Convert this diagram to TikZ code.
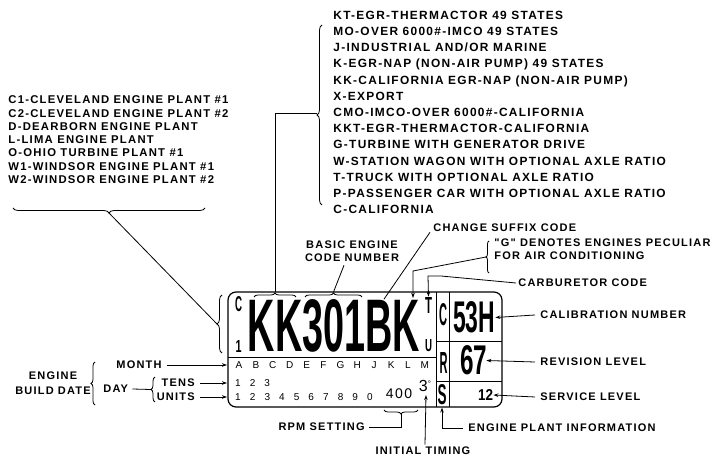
\documentclass[tikz,border=0pt]{standalone}
\usepackage{fontspec}
\setmainfont{Liberation Sans}
\newfontfamily\lblfont{Liberation Sans}[LetterSpace=11]
\usetikzlibrary{arrows.meta,decorations.pathreplacing}
\newcommand{\stamp}[3]{\resizebox{#1pt}{#2pt}{\bfseries #3}}

\begin{document}
\begin{tikzpicture}[x=1pt,y=-1pt,line width=0.8pt,
    lbl/.style={font=\lblfont\bfseries\fontsize{11}{13}\selectfont,inner sep=0pt},
    codelist/.style={lbl,align=left},
    digit/.style={font=\fontsize{10}{12}\selectfont,inner sep=0pt},
    heavy/.style={inner sep=0pt},
    brc/.style={decorate,decoration={brace,amplitude=#1}}, brc/.default=4,
    arr/.style={-{Stealth[length=5pt,width=3.5pt]}},
    plate/.style={line width=1.2pt,rounded corners=8pt}]
    \useasboundingbox (0,0) rectangle (716,460);

    % code lists
    \node[codelist,font=\lblfont\bfseries\fontsize{11.9}{16.2}\selectfont,anchor=north west] (types) at (333,10.5) {KT-EGR-THERMACTOR 49 STATES\\MO-OVER 6000\#-IMCO 49 STATES\\J-INDUSTRIAL AND/OR MARINE\\K-EGR-NAP (NON-AIR PUMP) 49 STATES\\KK-CALIFORNIA EGR-NAP (NON-AIR PUMP)\\X-EXPORT\\CMO-IMCO-OVER 6000\#-CALIFORNIA\\KKT-EGR-THERMACTOR-CALIFORNIA\\G-TURBINE WITH GENERATOR DRIVE\\W-STATION WAGON WITH OPTIONAL AXLE RATIO\\T-TRUCK WITH OPTIONAL AXLE RATIO\\P-PASSENGER CAR WITH OPTIONAL AXLE RATIO\\C-CALIFORNIA};
    \node[codelist,font=\lblfont\bfseries\fontsize{11.3}{13.3}\selectfont,anchor=north west] (plants) at (8,95.5) {C1-CLEVELAND ENGINE PLANT \#1\\C2-CLEVELAND ENGINE PLANT \#2\\D-DEARBORN ENGINE PLANT\\L-LIMA ENGINE PLANT\\O-OHIO TURBINE PLANT \#1\\W1-WINDSOR ENGINE PLANT \#1\\W2-WINDSOR ENGINE PLANT \#2};

    % the plate
    \draw[plate] (228,292) rectangle (502,407);
    \draw (436,292) -- (436,407) (449,292) -- (449,407);
    \draw (228,357) -- (436,357);
    \draw (436,341) -- (502,341) (436,381) -- (502,381);
    \node[heavy] (code) at (334,326) {\stamp{172}{52}{KK301BK}};
    \node[heavy] (plantc) at (238.5,304.5) {\stamp{7}{15}{C}};
    \node[heavy] (plantn) at (238.5,346) {\stamp{6}{12}{1}};
    \node[heavy] (carbt) at (428.5,305) {\stamp{7}{16}{T}};
    \node[heavy] (carbu) at (428.5,346) {\stamp{7}{12}{U}};
    \node[heavy] (calc) at (443,315) {\stamp{8}{22}{C}};
    \node[heavy] (revr) at (443.5,362.5) {\stamp{8}{21}{R}};
    \node[heavy] (servs) at (442,395) {\stamp{9}{20}{S}};
    \node[heavy] (calval) at (474,317.5) {\stamp{42}{31}{53H}};
    \node[heavy] (revval) at (473.5,360.5) {\stamp{27}{29}{67}};
    \node[heavy] (servval) at (485.5,395) {\stamp{15}{11}{12}};
    \foreach \l [count=\i from 0] in {A,B,C,D,E,F,G,H,J,K,L,M}
      \node[digit] (month\i) at (239+16.9*\i,365) {\l};
    \foreach \d [count=\i from 0] in {1,2,3}
      \node[digit] (tens\i) at (238+14.6*\i,383) {\d};
    \foreach \d [count=\i from 0] in {1,2,3,4,5,6,7,8,9,0}
      \node[digit] (units\i) at (238+14.65*\i,397) {\d};
    \node[inner sep=0pt,font=\lblfont\fontsize{14}{14}\selectfont] (rpmval) at (399,393.5) {400};
    \node[inner sep=0pt,font=\fontsize{16}{16}\selectfont] (deg) at (425,386) {3\raisebox{5pt}{\fontsize{8}{8}\selectfont °}};

    % braces
    \draw[brc=5] (322,205) -- (322,25);
    \draw[brc] (254,297) -- (296,297);
    \draw[brc] (305,297) -- (362,297);
    \draw[brc=5] (205,208) -- (13,208);
    \draw[brc=5] (222,353) -- (222,295);
    \draw[brc=3] (489,273) -- (489,241);
    \draw[brc] (418,410) -- (384,410);
    \draw[brc] (95,405) -- (95,362);
    \draw[brc] (155,402) -- (155,377);
    \coordinate (typestip) at (317,113);
    \coordinate (kktip) at (275,292);
    \coordinate (numtip) at (333.5,292);
    \coordinate (planttip) at (109,213);
    \coordinate (platetip) at (217,324);
    \coordinate (gtip) at (486,257);
    \coordinate (rpmtip) at (401,414);
    \coordinate (buildtip) at (91,383.5);
    \coordinate (daytip) at (151,389.5);

    % labels
    \node[lbl,align=center] (basic) at (352,251.5) {BASIC ENGINE\\CODE NUMBER};
    \node[lbl,anchor=west] (suffix) at (433,228) {CHANGE SUFFIX CODE};
    \node[lbl,anchor=west,align=left] (gnote) at (494,249.5) {"G" DENOTES ENGINES PECULIAR\\FOR AIR CONDITIONING};
    \node[lbl,anchor=west] (carb) at (518,283) {CARBURETOR CODE};
    \node[lbl,anchor=west] (calib) at (540,315) {CALIBRATION NUMBER};
    \node[lbl,anchor=west] (revision) at (540,362) {REVISION LEVEL};
    \node[lbl,anchor=west] (service) at (540,397) {SERVICE LEVEL};
    \node[lbl,anchor=west] (plantinfo) at (468,428) {ENGINE PLANT INFORMATION};
    \node[lbl] (timing) at (423,451) {INITIAL TIMING};
    \node[lbl,anchor=east] (rpm) at (365,427) {RPM SETTING};
    \node[lbl,align=center,font=\lblfont\bfseries\fontsize{11}{15}\selectfont] (build) at (53,383) {ENGINE\\BUILD DATE};
    \node[lbl,anchor=east] (month) at (162,365) {MONTH};
    \node[lbl,anchor=west] (day) at (103,389) {DAY};
    \node[lbl,anchor=east] (tens) at (195,383) {TENS};
    \node[lbl,anchor=east] (units) at (195,397) {UNITS};

    % connectors
    \draw (kktip) |- (typestip);
    \draw (planttip) -- (platetip);
    \draw ([xshift=-8pt,yshift=-3pt]basic.south) -- (numtip);
    \draw ([xshift=-3pt]suffix.south west) -- (code.north east -| 384,0) ++(0,4);
    \draw[arr] (gtip) -- (413,271) -- (413,298);
    \draw[arr] ([xshift=-2pt]carb.west) -- (441,276) -- (428,276) -- (carbt.north);
    \draw[arr] ([xshift=-5pt]calib.west) -- (calval.east);
    \draw[arr] ([xshift=-5pt]revision.west) -- ([xshift=-1pt]revval.east);
    \draw[arr] ([xshift=-5pt]service.west) -- (servval.east);
    \draw[arr] ([xshift=-5pt]plantinfo.west) -| ([yshift=-2pt]servs.south);
    \draw[arr] ([yshift=2pt]timing.north -| deg) -- ([yshift=-3pt]deg.south -| 426,0);
    \draw ([xshift=4pt]rpm.east) -| (rpmtip);
    \draw (build.east) -- (buildtip);
    \draw ([xshift=4pt]day.east) -- (daytip);
    \draw[arr] ([xshift=5pt]month.east) -- (month0.west -| 227,0);
    \draw[arr] ([xshift=5pt]tens.east) -- (tens0.west -| 227,0);
    \draw[arr] ([xshift=5pt]units.east) -- (units0.west -| 227,0);
\end{tikzpicture}
\end{document}
